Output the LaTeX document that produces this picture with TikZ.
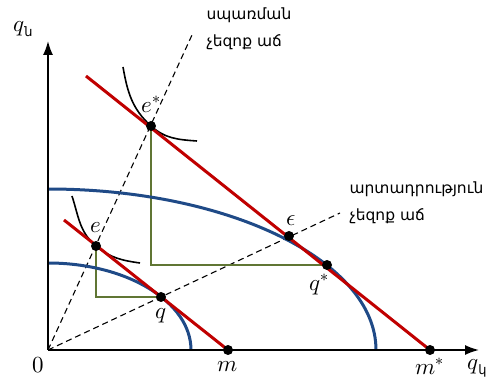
\documentclass[tikz,border=0pt]{standalone}
\usepackage{fontspec}
\usepackage{unicode-math}
\setmathfont{Latin Modern Math}
\usetikzlibrary{arrows.meta,backgrounds}
\newfontfamily\armfont[Script=Armenian]{DejaVu Sans}
\definecolor{budgetred}{RGB}{192,0,0}
\definecolor{ppfblue}{RGB}{31,74,135}
\definecolor{guidegreen}{RGB}{96,118,52}
\begin{document}
\begin{tikzpicture}[x=1pt, y=1pt]

% --- Styles ---
\tikzset{
    axis/.style={-{Latex[length=14pt,width=10pt]}, line width=1.6pt, black},
    budget/.style={draw=budgetred, line width=3pt},
    ppf/.style={draw=ppfblue, line width=3pt},
    ray/.style={black, line width=1.1pt, dash pattern=on 6pt off 4pt},
    indiff/.style={draw=black, line width=1.6pt},
    guide/.style={draw=guidegreen, line width=1.2pt},
    point/.style={circle, fill=black, inner sep=0pt, minimum size=10pt},
    lbl/.style={font=\fontsize{23}{26}\selectfont, inner sep=1pt},
    armlabel/.style={font=\armfont\fontsize{15.5}{27}\selectfont, align=left, anchor=west}
}

    \useasboundingbox (0,0) rectangle (491,381);

    % Axes
    \coordinate (O) at (48,31);
    \coordinate (ytop) at (48,340);
    \coordinate (xend) at (479,31);
    \draw[axis] (O) -- (ytop);
    \draw[axis] (O) -- (xend);
    \node[lbl] (qn) at (23,352) {$q$\raisebox{-5pt}{\armfont\fontsize{13}{13}\selectfont ն}};
    \node[lbl] (qk) at (477,13) {$q$\raisebox{-5pt}{\armfont\fontsize{13}{13}\selectfont կ}};
    \node[lbl] (zero) at (38,16) {$0$};

    % Points
    \node[point, label={[lbl, label distance=5pt]below:$m$}] (m) at (228,31) {};
    \node[point, label={[lbl, label distance=2pt]below:$m^*$}] (ms) at (430,31) {};
    \node[point, label={[lbl, label distance=7pt]above:$e^*$}] (es) at (151,255) {};
    \node[point, label={[lbl, label distance=7pt]above:$e$}] (e) at (96,135) {};
    \node[point, label={[lbl, label distance=5pt]below:$q$}] (q) at (161,84) {};
    \node[point, label={[lbl, label distance=3pt, xshift=-8pt]below:$q^*$}] (qs) at (327,116) {};
    \node[point, label={[lbl, label distance=4pt, xshift=2pt]above:$\epsilon$}] (eps) at (289,145) {};

    % Rays, budget lines, frontiers, indifference curves
    \coordinate (raycons) at (192,346);
    \coordinate (rayprod) at (340,168);
    \coordinate (bigtop) at (86,305);
    \coordinate (smalltop) at (64,161);
    \coordinate (ua) at (123,314);
    \coordinate (ub) at (197,240);
    \coordinate (va) at (72,185);
    \coordinate (vb) at (140,118);

    \begin{scope}[on background layer]
    \draw[ray] (O) -- (raycons);
    \draw[ray] (O) -- (rayprod);
    \draw[guide] (es.center) |- (qs.center);
    \draw[guide] (e.center) |- (q.center);
    \draw[ppf] (48,118) arc[start angle=90, end angle=0, x radius=143, y radius=87];
    \draw[ppf] (48,192) arc[start angle=90, end angle=0, x radius=328, y radius=161];
    \draw[indiff] (ua) to[out=-80, in=138] (es.center) to[out=-42, in=176] (ub);
    \draw[indiff] (va) to[out=-72, in=140] (e.center) to[out=-40, in=172] (vb);
    \draw[budget] (bigtop) -- (ms.center);
    \draw[budget] (smalltop) -- (m.center);
    \end{scope}

    % Labels
    \node[armlabel] (cons) at (203,352) {սպառման\\չեզոք աճ};
    \node[armlabel] (prod) at (346,178) {արտադրություն\\չեզոք աճ};

\end{tikzpicture}
\end{document}
